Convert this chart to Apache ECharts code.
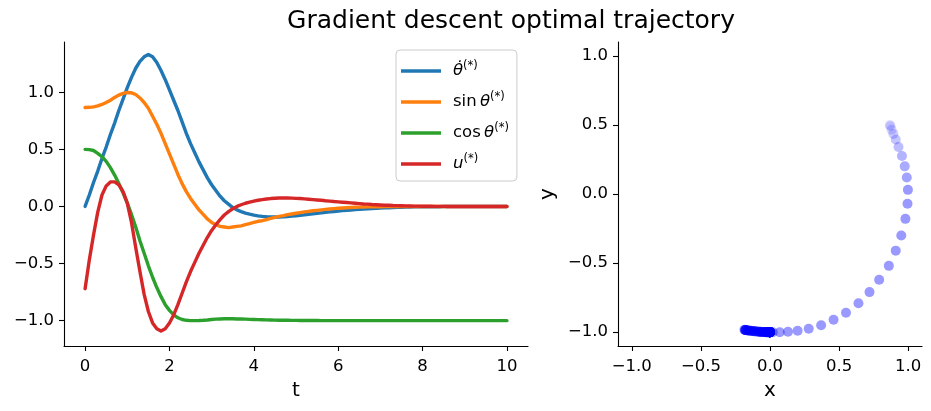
<!DOCTYPE html>
<html>
<head>
<meta charset="utf-8">
<script src="https://cdn.jsdelivr.net/npm/echarts@6/dist/echarts.min.js"></script>
<style>html,body{margin:0;padding:0;background:#fff}#c{width:931px;height:411px}</style>
</head>
<body>
<div id="c"></div>
<script>
const t = [0,0.1,0.2,0.3,0.4,0.5,0.6,0.7,0.8,0.9,1,1.1,1.2,1.3,1.4,1.5,1.6,1.7,1.8,1.9,2,2.1,2.2,2.3,2.4,2.5,2.6,2.7,2.8,2.9,3,3.1,3.2,3.3,3.4,3.5,3.6,3.7,3.8,3.9,4,4.1,4.2,4.3,4.4,4.5,4.6,4.7,4.8,4.9,5,5.1,5.2,5.3,5.4,5.5,5.6,5.7,5.8,5.9,6,6.1,6.2,6.3,6.4,6.5,6.6,6.7,6.8,6.9,7,7.1,7.2,7.3,7.4,7.5,7.6,7.7,7.8,7.9,8,8.1,8.2,8.3,8.4,8.5,8.6,8.7,8.8,8.9,9,9.1,9.2,9.3,9.4,9.5,9.6,9.7,9.8,9.9,10];

const thetaDot = [0,0.1,0.21,0.31,0.42,0.52,0.63,0.73,0.84,0.94,1.04,1.13,1.21,1.27,1.31,1.33,1.31,1.26,1.19,1.11,1.02,0.93,0.84,0.74,0.64,0.55,0.47,0.39,0.32,0.25,0.19,0.14,0.09,0.05,0.02,-0.01,-0.03,-0.045,-0.058,-0.068,-0.076,-0.082,-0.087,-0.09,-0.092,-0.093,-0.092,-0.09,-0.088,-0.085,-0.081,-0.077,-0.073,-0.068,-0.064,-0.06,-0.056,-0.052,-0.048,-0.044,-0.04,-0.037,-0.034,-0.031,-0.028,-0.025,-0.022,-0.02,-0.018,-0.016,-0.014,-0.012,-0.011,-0.01,-0.008,-0.007,-0.006,-0.005,-0.004,-0.004,-0.003,-0.003,-0.002,-0.002,-0.002,-0.001,-0.001,-0.001,-0.001,-0.001,-0.001,0,0,0,0,0,0,0,0,0,0];

const sinTheta = [0.866,0.868,0.872,0.88,0.893,0.91,0.93,0.955,0.975,0.99,0.998,0.995,0.98,0.95,0.91,0.86,0.79,0.72,0.64,0.55,0.46,0.37,0.28,0.2,0.13,0.07,0.02,-0.03,-0.07,-0.11,-0.14,-0.16,-0.175,-0.18,-0.185,-0.18,-0.175,-0.17,-0.16,-0.15,-0.14,-0.13,-0.125,-0.115,-0.105,-0.095,-0.087,-0.08,-0.072,-0.066,-0.06,-0.054,-0.048,-0.043,-0.038,-0.034,-0.03,-0.026,-0.022,-0.019,-0.016,-0.013,-0.011,-0.009,-0.007,-0.006,-0.005,-0.004,-0.003,-0.002,-0.002,-0.001,-0.001,-0.001,-0.001,-0.001,0,0,0,0,0,0,0,0,0,0,0,0,0,0,0,0,0,0,0,0,0,0,0,0,0];

const cosTheta = [0.5,0.498,0.49,0.465,0.435,0.395,0.34,0.275,0.2,0.12,0.03,-0.07,-0.18,-0.3,-0.41,-0.52,-0.62,-0.71,-0.79,-0.86,-0.91,-0.95,-0.975,-0.99,-0.997,-1.0,-1.0,-0.999,-0.997,-0.994,-0.99,-0.987,-0.985,-0.984,-0.983,-0.984,-0.985,-0.986,-0.987,-0.989,-0.99,-0.991,-0.992,-0.993,-0.994,-0.995,-0.996,-0.997,-0.997,-0.998,-0.998,-0.999,-0.999,-0.999,-0.999,-0.999,-1,-1,-1,-1,-1,-1,-1,-1,-1,-1,-1,-1,-1,-1,-1,-1,-1,-1,-1,-1,-1,-1,-1,-1,-1,-1,-1,-1,-1,-1,-1,-1,-1,-1,-1,-1,-1,-1,-1,-1,-1,-1,-1,-1,-1];

const u = [-0.72,-0.47,-0.25,-0.05,0.1,0.18,0.215,0.215,0.19,0.13,0.03,-0.14,-0.36,-0.57,-0.77,-0.92,-1.02,-1.07,-1.09,-1.07,-1.02,-0.95,-0.86,-0.76,-0.66,-0.57,-0.49,-0.41,-0.34,-0.27,-0.21,-0.16,-0.115,-0.075,-0.045,-0.02,0.0,0.015,0.028,0.038,0.047,0.054,0.06,0.065,0.069,0.072,0.074,0.075,0.074,0.073,0.071,0.069,0.066,0.063,0.06,0.057,0.054,0.05,0.047,0.043,0.04,0.037,0.034,0.031,0.028,0.025,0.022,0.02,0.017,0.015,0.013,0.011,0.01,0.008,0.007,0.006,0.005,0.004,0.003,0.003,0.002,0.002,0.002,0.001,0.001,0.001,0,0,0,0,0,0,0,0,0,0,0,0,0,0,0];

const tTicks = [0,2,4,6,8,10];
const leftYTicks = [-1,-0.5,0,0.5,1];
const rightTicks = [-1,-0.5,0,0.5,1];
const seriesNames = ['thetaDot','sinTheta','cosTheta','u'];
const seriesColors = ['#1f77b4','#ff7f0e','#2ca02c','#d62728'];
const legendRich = {
  thetaDot: '{it|θ̇}{sup|(*)}',
  sinTheta: 'sin\u2009{it|θ}{sup|(*)}',
  cosTheta: 'cos\u2009{it|θ}{sup|(*)}',
  u: '{it|u}{sup|(*)}'
};
const titleText = 'Gradient descent optimal trajectory';

const FONT = 'DejaVu Sans';
const fmt1 = v => (v < 0 ? '\u2212' : '') + Math.abs(v).toFixed(1);
const fmt0 = v => (v < 0 ? '\u2212' : '') + Math.abs(v).toFixed(0);

function xAxisCfg(grid, min, max, ticks, f, name) {
  return {
    gridIndex: grid, type: 'value', min: min, max: max,
    axisLine: {onZero: false, lineStyle: {color: '#000', width: 1.1}},
    axisTick: {customValues: ticks, length: 5, lineStyle: {color: '#000', width: 1.1}},
    axisLabel: {customValues: ticks, formatter: f, fontSize: 16.5, color: '#000', margin: 12, fontFamily: FONT},
    splitLine: {show: false},
    name: name, nameLocation: 'middle', nameGap: 35,
    nameTextStyle: {fontSize: 20, color: '#000', fontFamily: FONT}
  };
}
function yAxisCfg(grid, min, max, ticks, f, name, gap) {
  return {
    gridIndex: grid, type: 'value', min: min, max: max,
    axisLine: {onZero: false, lineStyle: {color: '#000', width: 1.1}},
    axisTick: {customValues: ticks, length: 5, lineStyle: {color: '#000', width: 1.1}},
    axisLabel: {customValues: ticks, formatter: f, fontSize: 16.5, color: '#000', margin: 10, fontFamily: FONT},
    splitLine: {show: false},
    name: name, nameLocation: 'middle', nameGap: gap, nameRotate: 90,
    nameTextStyle: {fontSize: 20, color: '#000', fontFamily: FONT}
  };
}

const lineArrays = [thetaDot, sinTheta, cosTheta, u];
const lineSeries = lineArrays.map((arr, k) => ({
  name: seriesNames[k], type: 'line', xAxisIndex: 0, yAxisIndex: 0,
  data: arr.map((v, i) => [t[i], v]),
  showSymbol: false, smooth: false, color: seriesColors[k],
  lineStyle: {width: 3.4, color: seriesColors[k], cap: 'round', join: 'round'},
  animation: false
}));

const scatterData = sinTheta.map((s, i) => ({
  value: [s, cosTheta[i]],
  itemStyle: {opacity: Math.min(0.4, 0.06 + 0.34 * t[i])}
}));

const chart = echarts.init(document.getElementById('c'), null, {renderer: 'canvas'});
chart.setOption({
  animation: false,
  backgroundColor: '#fff',
  textStyle: {fontFamily: FONT},
  title: {
    text: titleText, left: 506, top: 4, textAlign: 'center',
    textStyle: {fontSize: 25, fontWeight: 'normal', color: '#000', fontFamily: FONT}
  },
  grid: [
    {left: 64, top: 42, width: 464, height: 304},
    {left: 618, top: 42, width: 304, height: 304}
  ],
  xAxis: [
    xAxisCfg(0, -0.5, 10.5, tTicks, fmt0, 't'),
    xAxisCfg(1, -1.1, 1.1, rightTicks, fmt1, 'x')
  ],
  yAxis: [
    yAxisCfg(0, -1.222, 1.44, leftYTicks, fmt1, '', 40),
    yAxisCfg(1, -1.1, 1.1, rightTicks, fmt1, 'y', 60)
  ],
  legend: {
    data: seriesNames, orient: 'vertical', left: 396, top: 50,
    padding: [10, 8, 6, 5], itemGap: 9, itemWidth: 40, itemHeight: 3.5,
    icon: 'rect', selectedMode: false,
    borderColor: '#cccccc', borderWidth: 1, borderRadius: 4,
    backgroundColor: 'rgba(255,255,255,0.8)',
    formatter: name => legendRich[name],
    textStyle: {
      fontSize: 16.5, color: '#000', fontFamily: FONT, lineHeight: 22, padding: [0, 0, 0, 7],
      rich: {
        it: {fontStyle: 'italic', fontSize: 16.5, fontFamily: FONT, lineHeight: 22, color: '#000'},
        sup: {fontSize: 11.5, fontFamily: FONT, lineHeight: 8, verticalAlign: 'top', color: '#000'}
      }
    }
  },
  series: lineSeries.concat([{
    type: 'scatter', xAxisIndex: 1, yAxisIndex: 1,
    data: scatterData, symbolSize: 10, color: '#0000ff',
    itemStyle: {color: '#0000ff'}, animation: false
  }])
});
</script>
</body>
</html>
